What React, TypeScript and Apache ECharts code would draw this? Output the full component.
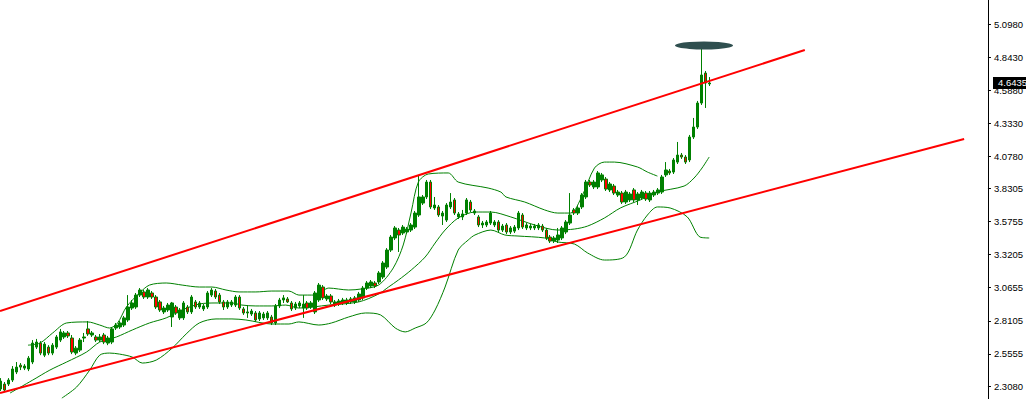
import React, { useEffect, useRef } from "react";
import * as echarts from "echarts";

// Candle values (bar index 0..178)
const candleOpen = [
  2.285, 2.323, 2.323, 2.354, 2.416, 2.469, 2.446, 2.439, 2.493, 2.608,
  2.639, 2.546, 2.608, 2.562, 2.608, 2.662, 2.686, 2.717, 2.678, 2.562,
  2.585, 2.678, 2.748, 2.701, 2.686, 2.662, 2.701, 2.639, 2.647, 2.755,
  2.763, 2.778, 2.817, 2.909, 2.917, 3.009, 3.033, 2.994, 3.025, 2.994,
  2.956, 2.879, 2.894, 2.840, 2.917, 2.833, 2.833, 2.917, 2.879, 2.956,
  2.917, 2.902, 2.917, 3.009, 3.040, 3.009, 2.956, 2.917, 2.932, 2.932,
  2.994, 2.902, 2.871, 2.863, 2.871, 2.825, 2.833, 2.833, 2.840, 2.794,
  2.925, 2.971, 2.979, 2.948, 2.909, 2.925, 2.909, 2.948, 2.917, 2.879,
  2.971, 3.071, 2.979, 3.002, 2.932, 2.940, 2.948, 2.948, 2.956, 2.956,
  2.971, 2.987, 3.063, 3.079, 3.102, 3.110, 3.148, 3.225, 3.356, 3.449,
  3.510, 3.487, 3.495, 3.510, 3.533, 3.626, 3.718, 3.765, 3.880, 3.680,
  3.688, 3.618, 3.587, 3.688, 3.742, 3.611, 3.611, 3.641, 3.726, 3.641,
  3.611, 3.549, 3.549, 3.564, 3.549, 3.572, 3.510, 3.549, 3.495, 3.502,
  3.526, 3.626, 3.526, 3.526, 3.526, 3.526, 3.541, 3.510, 3.456, 3.425,
  3.433, 3.449, 3.495, 3.564, 3.665, 3.641, 3.688, 3.765, 3.880, 3.842,
  3.842, 3.896, 3.903, 3.819, 3.849, 3.780, 3.795, 3.726, 3.742, 3.819,
  3.742, 3.757, 3.795, 3.742, 3.780, 3.795, 3.803, 3.935, 3.965, 3.957,
  4.034, 4.088, 4.073, 4.050, 4.227, 4.304, 4.489, 4.720, 4.636,
];
const candleClose = [
  2.346, 2.277, 2.354, 2.439, 2.454, 2.454, 2.462, 2.523, 2.639, 2.647,
  2.562, 2.631, 2.562, 2.623, 2.686, 2.725, 2.717, 2.694, 2.570, 2.600,
  2.662, 2.686, 2.709, 2.717, 2.662, 2.686, 2.647, 2.678, 2.748, 2.778,
  2.794, 2.833, 2.917, 2.948, 3.009, 3.048, 2.994, 3.048, 2.994, 2.917,
  2.894, 2.909, 2.932, 2.948, 2.871, 2.894, 2.948, 2.879, 2.994, 2.917,
  2.948, 2.925, 3.025, 3.048, 2.994, 2.956, 2.917, 2.956, 2.956, 2.994,
  2.909, 2.871, 2.879, 2.886, 2.817, 2.871, 2.863, 2.871, 2.794, 2.925,
  2.971, 2.987, 2.956, 2.902, 2.940, 2.948, 2.940, 2.909, 2.948, 3.025,
  3.086, 2.987, 3.002, 2.956, 2.956, 2.963, 2.971, 2.971, 2.979, 2.987,
  3.017, 3.063, 3.102, 3.110, 3.079, 3.179, 3.256, 3.356, 3.456, 3.526,
  3.472, 3.533, 3.518, 3.549, 3.641, 3.765, 3.765, 3.880, 3.688, 3.703,
  3.626, 3.641, 3.703, 3.726, 3.641, 3.634, 3.634, 3.742, 3.665, 3.657,
  3.549, 3.564, 3.572, 3.641, 3.572, 3.510, 3.541, 3.495, 3.526, 3.533,
  3.641, 3.533, 3.549, 3.541, 3.541, 3.549, 3.510, 3.449, 3.425, 3.449,
  3.472, 3.526, 3.572, 3.626, 3.641, 3.680, 3.780, 3.880, 3.857, 3.880,
  3.950, 3.935, 3.826, 3.865, 3.795, 3.803, 3.726, 3.803, 3.788, 3.742,
  3.788, 3.803, 3.749, 3.795, 3.803, 3.819, 3.919, 3.973, 3.950, 4.050,
  4.088, 4.073, 4.034, 4.227, 4.304, 4.489, 4.705, 4.643, 4.6435,
];
const candleHigh = [
  2.369, 2.339, 2.369, 2.462, 2.493, 2.485, 2.477, 2.539, 2.662, 2.671,
  2.654, 2.647, 2.623, 2.639, 2.701, 2.748, 2.732, 2.732, 2.701, 2.616,
  2.678, 2.717, 2.809, 2.732, 2.701, 2.709, 2.717, 2.694, 2.763, 2.794,
  2.809, 2.848, 3.009, 2.971, 3.025, 3.063, 3.048, 3.063, 3.040, 3.009,
  2.971, 2.925, 2.948, 2.956, 2.932, 2.909, 2.963, 2.932, 3.009, 2.971,
  2.963, 2.940, 3.040, 3.063, 3.056, 3.025, 2.971, 2.971, 2.971, 3.009,
  3.009, 2.917, 2.932, 2.902, 2.886, 2.886, 2.879, 2.886, 2.856, 2.940,
  2.987, 3.009, 2.994, 2.963, 2.956, 2.963, 3.009, 2.963, 2.963, 3.040,
  3.102, 3.086, 3.017, 3.017, 2.971, 2.979, 2.987, 2.987, 2.994, 3.002,
  3.033, 3.079, 3.117, 3.125, 3.117, 3.194, 3.271, 3.371, 3.472, 3.541,
  3.526, 3.549, 3.533, 3.564, 3.657, 3.935, 3.780, 3.896, 3.896, 3.765,
  3.703, 3.657, 3.718, 3.795, 3.757, 3.649, 3.665, 3.757, 3.742, 3.672,
  3.626, 3.580, 3.587, 3.657, 3.587, 3.587, 3.557, 3.564, 3.541, 3.549,
  3.657, 3.641, 3.564, 3.557, 3.557, 3.564, 3.557, 3.526, 3.472, 3.464,
  3.526, 3.541, 3.587, 3.795, 3.680, 3.695, 3.795, 3.896, 3.896, 3.896,
  3.965, 3.950, 3.919, 3.880, 3.865, 3.819, 3.811, 3.819, 3.803, 3.834,
  3.803, 3.819, 3.811, 3.811, 3.819, 3.834, 3.935, 4.034, 3.981, 4.065,
  4.189, 4.104, 4.088, 4.243, 4.374, 4.505, 4.921, 4.736, 4.689,
];
const candleLow = [
  2.269, 2.262, 2.308, 2.339, 2.400, 2.431, 2.431, 2.423, 2.477, 2.593,
  2.546, 2.531, 2.546, 2.546, 2.593, 2.647, 2.671, 2.678, 2.554, 2.546,
  2.570, 2.647, 2.694, 2.686, 2.647, 2.647, 2.631, 2.623, 2.631, 2.740,
  2.748, 2.763, 2.802, 2.894, 2.902, 2.994, 2.979, 2.979, 2.979, 2.902,
  2.879, 2.863, 2.879, 2.763, 2.856, 2.817, 2.817, 2.863, 2.863, 2.902,
  2.902, 2.886, 2.902, 2.994, 2.979, 2.940, 2.894, 2.902, 2.917, 2.917,
  2.894, 2.856, 2.833, 2.848, 2.802, 2.809, 2.817, 2.817, 2.778, 2.778,
  2.909, 2.948, 2.948, 2.886, 2.894, 2.909, 2.833, 2.894, 2.902, 2.863,
  2.956, 2.971, 2.963, 2.940, 2.917, 2.925, 2.932, 2.932, 2.940, 2.940,
  2.956, 2.971, 3.048, 3.063, 3.063, 3.094, 3.133, 3.210, 3.341, 3.433,
  3.341, 3.472, 3.479, 3.495, 3.518, 3.611, 3.703, 3.749, 3.672, 3.665,
  3.611, 3.549, 3.572, 3.672, 3.626, 3.595, 3.587, 3.626, 3.649, 3.626,
  3.533, 3.526, 3.533, 3.549, 3.533, 3.495, 3.495, 3.479, 3.479, 3.487,
  3.510, 3.518, 3.510, 3.510, 3.510, 3.510, 3.495, 3.433, 3.410, 3.410,
  3.410, 3.433, 3.479, 3.549, 3.626, 3.626, 3.672, 3.749, 3.842, 3.826,
  3.826, 3.880, 3.811, 3.803, 3.780, 3.765, 3.711, 3.711, 3.726, 3.726,
  3.703, 3.742, 3.734, 3.726, 3.765, 3.780, 3.788, 3.919, 3.935, 3.942,
  4.019, 4.058, 4.019, 4.034, 4.212, 4.289, 4.474, 4.451, 4.620,
];

// Green indicator lines: [bar index, price]
const upperBand = [
  [6.9, 2.623], [9.9, 2.639], [13.1, 2.717], [16.6, 2.794], [21.9, 2.802], [24.9, 2.778],
  [27.4, 2.755], [29.4, 2.794], [31.6, 2.917], [34.9, 3.025], [37.4, 3.086], [41.6, 3.102],
  [45.6, 3.086], [49.9, 3.071], [53.1, 3.071], [56.6, 3.048], [59.9, 3.033], [64.1, 3.033],
  [68.1, 3.04], [72.4, 3.04], [74.9, 3.009], [79.1, 3.009], [82.4, 3.063], [87.4, 3.048],
  [90.6, 3.056], [94.9, 3.086], [98.6, 3.218], [101.1, 3.395], [103.1, 3.649], [104.9, 3.88],
  [107.4, 3.942], [112.4, 3.95], [114.9, 3.88], [122.4, 3.834], [125.6, 3.803], [126.9, 3.765],
  [131.6, 3.726], [136.6, 3.665], [139.9, 3.641], [143.1, 3.641], [146.1, 3.78], [149.1, 3.988],
  [151.6, 4.034], [154.1, 4.034], [159.9, 3.996], [162.4, 3.957], [164.9, 3.926],
];
const middleBand = [
  [2.4, 2.254], [8.1, 2.354], [12.4, 2.431], [16.6, 2.493], [21.6, 2.57], [24.9, 2.647],
  [29.1, 2.686], [33.1, 2.74], [37.4, 2.794], [41.6, 2.833], [45.6, 2.894], [49.9, 2.94],
  [54.1, 2.948], [58.1, 2.948], [60.6, 2.932], [64.1, 2.925], [68.1, 2.925], [71.6, 2.932],
  [74.9, 2.909], [82.4, 2.932], [89.9, 2.956], [94.9, 3.017], [97.4, 3.071], [99.9, 3.125],
  [103.1, 3.202], [106.6, 3.302], [109.1, 3.41], [111.6, 3.51], [114.9, 3.603], [119.1, 3.649],
  [123.1, 3.649], [128.1, 3.611], [134.1, 3.549], [139.9, 3.51], [144.1, 3.518], [147.4, 3.541],
  [151.6, 3.603], [155.6, 3.68], [160.6, 3.742], [164.9, 3.803], [171.6, 3.849], [174.1, 3.911],
  [176.1, 3.988], [177.9, 4.073],
];
const lowerBand = [
  [15.4, 2.215], [19.1, 2.3], [22.4, 2.431], [24.9, 2.546], [27.4, 2.562], [29.9, 2.554],
  [33.1, 2.531], [35.6, 2.485], [39.1, 2.508], [43.1, 2.6], [46.6, 2.709], [49.9, 2.794],
  [54.1, 2.825], [58.1, 2.825], [61.6, 2.817], [68.1, 2.786], [72.4, 2.786], [74.9, 2.802],
  [79.9, 2.778], [83.1, 2.794], [87.4, 2.84], [91.6, 2.871], [95.4, 2.856], [99.1, 2.755],
  [101.6, 2.725], [104.1, 2.755], [106.9, 2.794], [109.1, 2.894], [111.6, 3.071], [114.9, 3.356],
  [117.4, 3.433], [119.1, 3.472], [123.1, 3.51], [126.6, 3.472], [129.9, 3.464], [136.6, 3.449],
  [139.9, 3.418], [144.1, 3.402], [147.4, 3.333], [151.6, 3.279], [156.6, 3.302], [159.9, 3.51],
  [162.4, 3.626], [164.9, 3.688], [168.1, 3.68], [172.4, 3.611], [175.6, 3.456], [177.9, 3.449],
];

// Red trend channel lines
const upperTrend = [[-0.125, 2.886], [201.9, 4.898]];
const lowerTrend = [[-0.125, 2.254], [241.9, 4.212]];

// Dark marker above the spike
const spikeMarker = [[176.6, 4.933]];

const lastPrice = 4.6435;
const yTickLabels = [2.308, 2.5555, 2.8105, 3.0655, 3.3205, 3.5755, 3.8305, 4.078, 4.333, 4.588, 4.843, 5.098];
const yMin = 2.208;
const yMax = 5.283;
const xMin = -0.125;
const xMax = 247.875;

export default function App() {
  const ref = useRef<HTMLDivElement>(null);
  useEffect(() => {
    const chart = echarts.init(ref.current as HTMLDivElement, null, { renderer: "svg" });
    const candles = candleOpen.map((o, i) => [i, o, candleClose[i], candleLow[i], candleHigh[i]]);
    const font = "Liberation Sans";
    const green = "#008000";
    const bandLine = (data: number[][]) => ({
      type: "line",
      data,
      symbol: "none",
      smooth: 0.3,
      lineStyle: { color: green, width: 1 },
      z: 2,
      silent: true,
    });
    const trendLine = (data: number[][]) => ({
      type: "line",
      data,
      symbol: "none",
      lineStyle: { color: "#ff0000", width: 2 },
      z: 4,
      silent: true,
    });
    chart.setOption({
      animation: false,
      backgroundColor: "#ffffff",
      grid: { left: 0, right: 34, top: 0, bottom: 0 },
      xAxis: { type: "value", min: xMin, max: xMax, show: false },
      yAxis: {
        type: "value",
        position: "right",
        min: yMin,
        max: yMax,
        axisLine: { show: true, onZero: false, lineStyle: { color: "#000000", width: 1 } },
        axisTick: { show: true, length: 3, lineStyle: { color: "#000000" }, customValues: yTickLabels },
        axisLabel: {
          customValues: yTickLabels,
          formatter: (v: number) => v.toFixed(4),
          color: "#000000",
          fontSize: 9.5,
          fontFamily: font,
          margin: 6,
        },
        splitLine: { show: false },
      },
      series: [
        bandLine(upperBand),
        bandLine(middleBand),
        bandLine(lowerBand),
        {
          type: "candlestick",
          data: candles,
          dimensions: ["idx", "open", "close", "lowest", "highest"],
          encode: { x: "idx", y: ["open", "close", "lowest", "highest"] },
          barWidth: 3,
          z: 3,
          itemStyle: {
            color: green,
            color0: "#ff0000",
            borderColor: green,
            borderColor0: green,
            borderWidth: 1,
          },
        },
        trendLine(upperTrend),
        trendLine(lowerTrend),
        {
          type: "scatter",
          data: spikeMarker,
          symbol: "circle",
          symbolSize: [58, 8],
          itemStyle: { color: "#2f4f4f", opacity: 1 },
          z: 6,
          silent: true,
        },
      ],
    });
    const py = chart.convertToPixel({ yAxisIndex: 0 }, lastPrice) as number;
    chart.setOption({
      graphic: [
        {
          type: "rect",
          shape: { x: 993, y: Math.round(py) - 6, width: 33, height: 12 },
          style: { fill: "#000000" },
          z: 100,
        },
        {
          type: "text",
          x: 998,
          y: py,
          style: {
            text: lastPrice.toFixed(4),
            fill: "#ffffff",
            font: `9.5px "${font}"`,
            verticalAlign: "middle",
          },
          z: 101,
        },
      ],
    });
    return () => chart.dispose();
  }, []);
  return (
    <div
      ref={ref}
      style={{ position: "fixed", left: 0, top: 0, width: 1026, height: 399, background: "#fff" }}
    />
  );
}
